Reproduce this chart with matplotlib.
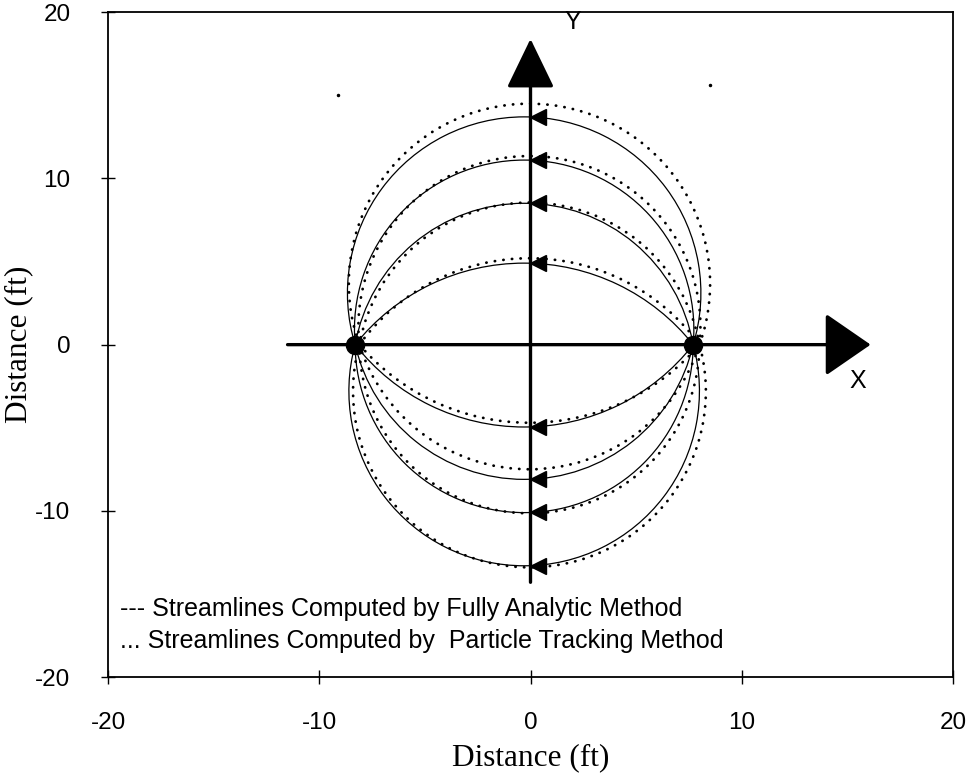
import numpy as np
import matplotlib.pyplot as plt
from matplotlib.patches import Arc

# injection / pumping wells on the x axis (ft)
well_x = [-8.3, 7.7]
well_y = [0, 0]

# y-axis crossing of each streamline (ft)
analytic_y0 = [13.7, 11.1, 8.5, 4.9, -4.95, -8.1, -10.1, -13.3]
tracking_y0 = [14.5, 11.35, 8.55, 5.2, -4.7, -7.5, -10.15, -13.4]
tracking_ends = [-8.1, 8.0]

# a couple of loose particle points
stray_x = [-9.1, 8.5]
stray_y = [15.0, 15.6]

ticks = [-20, -10, 0, 10, 20]
legend_lines = ["--- Streamlines Computed by Fully Analytic Method",
                "... Streamlines Computed by  Particle Tracking Method"]

# pixels per ft in the original, so the streamlines come out round on paper
SX, SY = 21.08, 16.63


def streamline(ax, x1, x2, y0, **kw):
    # arc through (x1,0), (x2,0) and (0,y0)
    u1, u2, v0 = x1 * SX, x2 * SX, y0 * SY
    uc = (u1 + u2) / 2
    vc = (uc**2 + v0**2 - (u1 - uc)**2) / (2 * v0)
    r = np.hypot(u1 - uc, vc)
    cx, cy = uc / SX, vc / SY
    a1 = np.degrees(np.arctan2(-cy, x1 - cx))
    a2 = np.degrees(np.arctan2(-cy, x2 - cx))
    t1, t2 = (a2, a1) if y0 > 0 else (a1, a2)
    ax.add_patch(Arc((cx, cy), 2 * r / SX, 2 * r / SY, theta1=t1, theta2=t2, **kw))


plt.rcParams['font.family'] = ['Liberation Sans', 'DejaVu Sans']
plt.rcParams['axes.unicode_minus'] = False

fig = plt.figure(figsize=(9.76, 7.74), dpi=100)
ax = fig.add_axes([108 / 976, 1 - 677 / 774, 845 / 976, 664.7 / 774])
ax.set_xlim(-20, 20)
ax.set_ylim(-20, 20)

# coordinate axes with big arrowheads
ax.annotate('', xy=(16.1, 0), xytext=(-11.5, 0),
            arrowprops=dict(arrowstyle='-|>,head_length=2.9,head_width=2.0',
                            mutation_scale=10, lw=2.4, color='k', shrinkA=0, shrinkB=0))
ax.annotate('', xy=(0, 18.4), xytext=(0, -14.3),
            arrowprops=dict(arrowstyle='-|>,head_length=3.1,head_width=1.5',
                            mutation_scale=10, lw=2.4, color='k', shrinkA=0, shrinkB=0))
ax.text(15.5, -2.2, 'X', ha='center', va='center', fontsize=18)
ax.text(2.0, 19.4, 'Y', ha='center', va='center', fontsize=18)

for y0 in analytic_y0:
    streamline(ax, well_x[0], well_x[1], y0, color='k', lw=0.9)
for y0 in tracking_y0:
    streamline(ax, tracking_ends[0], tracking_ends[1], y0, color='k', lw=2.0,
               linestyle=(0, (0.1, 3.0)), capstyle='round')

ax.plot([0.35] * len(analytic_y0), analytic_y0, '<', ms=11, color='k')
ax.plot(well_x, well_y, 'o', ms=13, color='k')
ax.plot(stray_x, stray_y, '.', ms=3, color='k')

for i, s in enumerate(legend_lines):
    ax.text(0.014, 0.102 - i * 0.048, s, transform=ax.transAxes,
            ha='left', va='center', fontsize=18)

ax.set_xticks(ticks)
ax.set_yticks(ticks)
ax.tick_params(direction='inout', length=10, width=1, labelsize=17.5)
ax.tick_params(axis='y', pad=22)
ax.tick_params(axis='x', pad=20)
for sp in ax.spines.values():
    sp.set_linewidth(1.3)

ax.set_xlabel('Distance (ft)', family='Liberation Serif', fontsize=22.5)
ax.set_ylabel('Distance (ft)', family='Liberation Serif', fontsize=22.5)
ax.xaxis.set_label_coords(0.5, -0.1)
ax.yaxis.set_label_coords(-0.089, 0.5)

fig.savefig('out.png', dpi=100)
